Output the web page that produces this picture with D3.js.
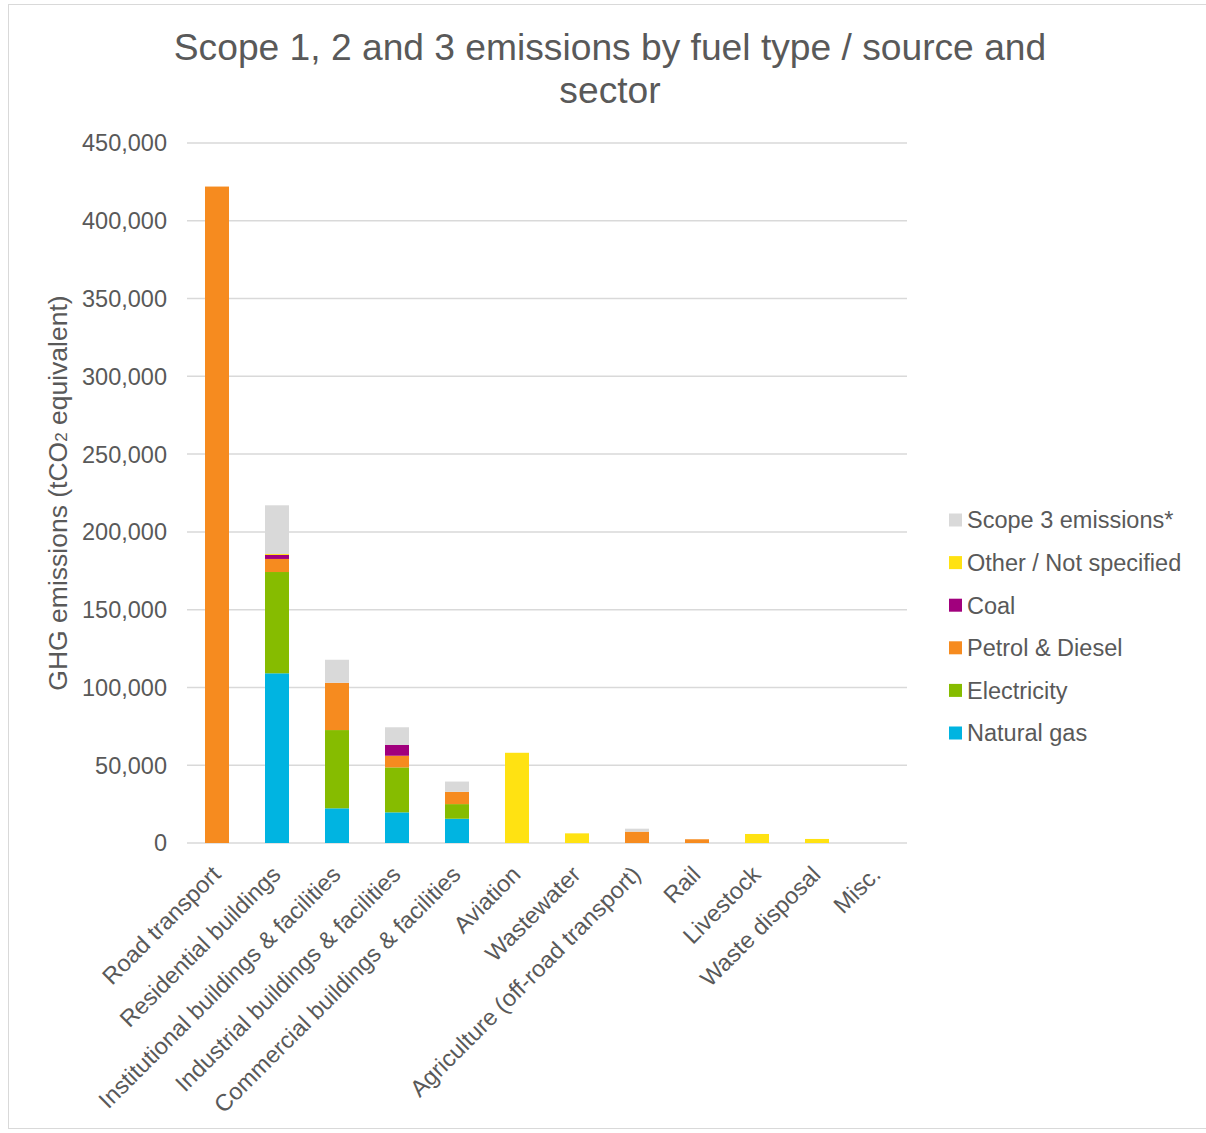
<!DOCTYPE html>
<html>
<head>
<meta charset="utf-8">
<script src="https://cdn.jsdelivr.net/npm/d3@7"></script>
<style>
  body { margin: 0; background: #fff; }
  text { font-family: "Liberation Sans", Arial, sans-serif; fill: #595959; }
</style>
</head>
<body>
<svg width="1206" height="1133"></svg>
<script>
// categories and series (tCO2e)
var sectors = ["Road transport", "Residential buildings", "Institutional buildings & facilities",
  "Industrial buildings & facilities", "Commercial buildings & facilities", "Aviation", "Wastewater",
  "Agriculture (off-road transport)", "Rail", "Livestock", "Waste disposal", "Misc."]
var naturalGas   = [0, 109100, 22300, 19700, 15600, 0, 0, 0, 0, 0, 0, 0]
var electricity  = [0, 65100, 50300, 28900, 9400, 0, 0, 0, 0, 0, 0, 0]
var petrolDiesel = [422000, 8400, 30400, 7500, 7900, 0, 0, 7300, 2400, 0, 0, 0]
var coal         = [0, 2600, 0, 6900, 0, 0, 0, 0, 0, 0, 0, 0]
var otherNS      = [0, 600, 0, 0, 0, 58000, 6200, 0, 0, 5800, 2600, 0]
var scope3       = [0, 31300, 14800, 11400, 6600, 0, 0, 1900, 0, 0, 0, 0]
var yTicks = [0, 50000, 100000, 150000, 200000, 250000, 300000, 350000, 400000, 450000]

var seriesNames = ["Natural gas", "Electricity", "Petrol & Diesel", "Coal", "Other / Not specified", "Scope 3 emissions*"]
var seriesVals = [naturalGas, electricity, petrolDiesel, coal, otherNS, scope3]
var colors = ["#00B4E1", "#86BC00", "#F68B1F", "#A1007D", "#FFE212", "#D9D9D9"]

var svg = d3.select("svg")

// outer chart border
svg.append("rect")
  .attr("x", 8.5).attr("y", 4.5)
  .attr("width", 1220).attr("height", 1124)
  .attr("fill", "none").attr("stroke", "#D9D9D9").attr("stroke-width", 1)

var plotLeft = 187, plotRight = 907, plotTop = 143, plotBottom = 843

var xScale = d3.scaleBand().domain(sectors).range([plotLeft, plotRight])
  .paddingInner(0.6).paddingOuter(0.3)
var yScale = d3.scaleLinear().domain([0, 450000]).range([plotBottom, plotTop])

// gridlines
svg.append("g").selectAll("line")
  .data(yTicks).enter().append("line")
  .attr("x1", plotLeft).attr("x2", plotRight)
  .attr("y1", function(d) { return yScale(d) }).attr("y2", function(d) { return yScale(d) })
  .attr("stroke", "#D9D9D9").attr("stroke-width", 1.5)

// y tick labels
svg.append("g").selectAll("text")
  .data(yTicks).enter().append("text")
  .attr("x", 167)
  .attr("y", function(d) { return yScale(d) })
  .attr("dy", "0.36em")
  .attr("text-anchor", "end")
  .attr("font-size", "23.5px")
  .text(function(d) { return d3.format(",")(d) })

// stacked bars
var table = sectors.map(function(s, i) {
  var row = { sector: s }
  seriesNames.forEach(function(n, j) { row[n] = seriesVals[j][i] })
  return row
})
var stacked = d3.stack().keys(seriesNames)(table)

svg.append("g").selectAll("g")
  .data(stacked).enter().append("g")
  .attr("fill", function(d, i) { return colors[i] })
  .selectAll("rect")
  .data(function(d) { return d }).enter().append("rect")
  .attr("x", function(d) { return xScale(d.data.sector) })
  .attr("width", xScale.bandwidth())
  .attr("y", function(d) { return yScale(d[1]) })
  .attr("height", function(d) { return yScale(d[0]) - yScale(d[1]) })

// x labels, rotated
svg.append("g").selectAll("text")
  .data(sectors).enter().append("text")
  .attr("text-anchor", "end")
  .attr("font-size", "23.5px")
  .attr("transform", function(d) {
    var cx = xScale(d) + xScale.bandwidth() / 2
    return "translate(" + (cx + 5) + "," + (plotBottom + 33) + ") rotate(-45)"
  })
  .text(function(d) { return d })

// y axis title
var yt = svg.append("text")
  .attr("transform", "translate(67," + 493 + ") rotate(-90)")
  .attr("text-anchor", "middle")
  .attr("font-size", "26.5px")
yt.append("tspan").text("GHG emissions (tCO")
yt.append("tspan").attr("font-size", "17px").text("2")
yt.append("tspan").text(" equivalent)")

// title
var title = svg.append("text")
  .attr("text-anchor", "middle")
  .attr("font-size", "37.2px")
title.append("tspan").attr("x", 610).attr("y", 60).text("Scope 1, 2 and 3 emissions by fuel type / source and")
title.append("tspan").attr("x", 610).attr("y", 103).text("sector")

// legend (top entry is last series)
var legendOrder = seriesNames.slice().reverse()
var legend = svg.append("g").selectAll("g")
  .data(legendOrder).enter().append("g")
  .attr("transform", function(d, i) { return "translate(949," + (520 + i * 42.6) + ")" })
legend.append("rect")
  .attr("x", 0).attr("y", -6.5).attr("width", 13).attr("height", 13)
  .attr("fill", function(d) { return colors[seriesNames.indexOf(d)] })
legend.append("text")
  .attr("x", 18).attr("dy", "0.36em")
  .attr("font-size", "23.5px")
  .text(function(d) { return d })
</script>
</body>
</html>
